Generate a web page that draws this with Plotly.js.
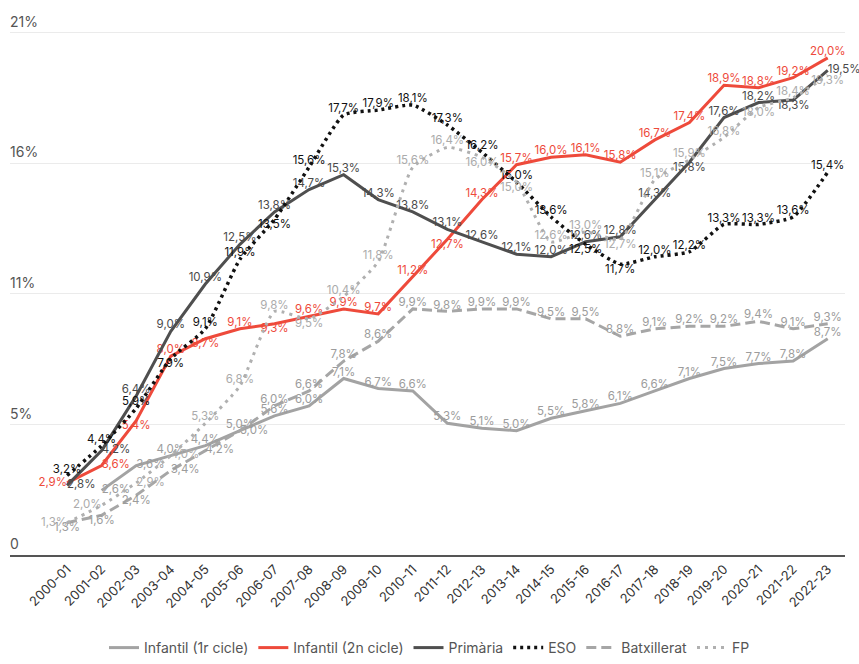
<!DOCTYPE html>
<html>
<head>
<meta charset="utf-8">
<script src="https://cdn.plot.ly/plotly-3.0.1.min.js"></script>
<style>html,body{margin:0;padding:0;background:#fff}#chart{width:859px;height:664px}</style>
</head>
<body>
<div id="chart"></div>
<script>
const years = ["2000-01","2001-02","2002-03","2003-04","2004-05","2005-06","2006-07","2007-08","2008-09","2009-10","2010-11","2011-12","2012-13","2013-14","2014-15","2015-16","2016-17","2017-18","2018-19","2019-20","2020-21","2021-22","2022-23"];

const infantil1 = [null,2.6,3.6,4.0,4.4,5.0,5.6,6.0,7.1,6.7,6.6,5.3,5.1,5.0,5.5,5.8,6.1,6.6,7.1,7.5,7.7,7.8,8.7];
const infantil2 = [2.9,3.6,5.4,8.0,8.7,9.1,9.3,9.6,9.9,9.7,11.2,12.7,14.3,15.7,16.0,16.1,15.8,16.7,17.4,18.9,18.8,19.2,20.0];
const primaria  = [2.8,4.2,6.4,9.0,10.9,12.5,13.8,14.7,15.3,14.3,13.8,13.1,12.6,12.1,12.0,12.6,12.8,14.3,15.8,17.6,18.2,18.3,19.5];
const eso       = [3.2,4.4,5.9,7.9,9.1,11.9,13.5,15.6,17.7,17.9,18.1,17.3,16.2,15.0,13.6,12.5,11.7,12.0,12.2,13.3,13.3,13.6,15.4];
const batx      = [1.3,1.6,2.4,3.4,4.2,5.0,6.0,6.6,7.8,8.6,9.9,9.8,9.9,9.9,9.5,9.5,8.8,9.1,9.2,9.2,9.4,9.1,9.3];
const fp        = [1.3,2.0,2.9,4.0,5.3,6.8,9.8,9.5,10.4,11.8,15.6,16.4,16.0,15.0,12.6,13.0,12.7,15.1,15.9,16.8,18.0,18.4,19.3];

const yTickVals = [0,5.25,10.5,15.75,21];
const yTickText = ["0","5%","11%","16%","21%"];

const T="top center", B="bottom center", L="middle left", R="middle right";
const pos1 = [T,R,R,T,T,R,T,T,T,T,T,T,T,T,T,T,T,T,T,T,T,T,T];
const pos2 = [L,R,B,T,B,T,B,T,T,T,T,B,T,T,T,T,T,T,T,T,T,T,T];
const posP = [R,R,T,T,T,T,T,T,T,T,T,T,T,T,T,T,T,T,B,T,T,B,R];
const posE = [T,T,T,B,T,T,B,T,T,T,T,T,T,T,T,B,B,T,T,T,T,T,T];
const posB = [B,B,B,R,R,T,T,T,T,T,T,T,T,T,T,T,T,T,T,T,T,T,T];
const posF = [L,L,R,R,T,T,T,B,T,T,T,T,B,B,T,T,B,T,T,T,B,T,B];

function fmt(arr){ return arr.map(v => v==null ? "" : v.toFixed(1).replace(".", ",") + "%"); }

const FONT = "Inter, 'Noto Sans', sans-serif";
function tr(name, vals, color, width, dash, tcolor, pos, shape){
  return {
    type: "scatter", mode: "lines+text", name: name,
    x: years, y: vals, text: fmt(vals), textposition: pos,
    textfont: {family: FONT, size: 11.5, color: tcolor},
    line: {color: color, width: width, dash: dash, shape: shape || "linear", smoothing: 0.5},
    cliponaxis: false, hoverinfo: "skip", connectgaps: false
  };
}

const data = [
  tr("Infantil (1r cicle)", infantil1, "#a3a3a3", 3, "solid", "#9c9c9c", pos1),
  tr("Infantil (2n cicle)", infantil2, "#ee4a3b", 3, "solid", "#ee4a3b", pos2),
  tr("Primària", primaria, "#4f4f4f", 3, "solid", "#4a4a4a", posP),
  tr("ESO", eso, "#111111", 3.5, "3px,4px", "#111111", posE, "spline"),
  tr("Batxillerat", batx, "#a6a6a6", 3, "10px,5px", "#9c9c9c", posB),
  tr("FP", fp, "#b0b0b0", 3, "3px,5px", "#ababab", posF, "spline")
];

const annotations = yTickVals.map((v, i) => ({
  xref: "paper", yref: "y", x: 0, y: v, xanchor: "left", yanchor: "bottom",
  text: yTickText[i], showarrow: false, yshift: 1, xshift: -2,
  font: {family: FONT, size: 14, color: "#555"}
}));

const layout = {
  width: 859, height: 664,
  margin: {l: 10, r: 14, t: 31, b: 109},
  paper_bgcolor: "#fff", plot_bgcolor: "#fff",
  font: {family: FONT, color: "#444"},
  showlegend: true,
  legend: {orientation: "h", x: 0.5, xanchor: "center", xref: "container", yref: "container", y: -0.012, yanchor: "bottom",
           font: {family: FONT, size: 14, color: "#555"}, itemwidth: 30, tracegroupgap: 0},
  xaxis: {type: "category", range: [-1.65, 22.5], showline: true, linecolor: "#555", linewidth: 1.5,
          showgrid: false, zeroline: false, ticks: "", tickangle: -45, automargin: false,
          tickfont: {family: FONT, size: 13, color: "#333"}, fixedrange: true},
  yaxis: {range: [0, 21.08], tickvals: yTickVals, showticklabels: false, showgrid: true, gridcolor: "#ebebeb",
          gridwidth: 1, zeroline: false, showline: false, ticks: "", automargin: false, fixedrange: true},
  annotations: annotations
};

Plotly.newPlot("chart", data, layout, {displayModeBar: false, staticPlot: true});
</script>
</body>
</html>
